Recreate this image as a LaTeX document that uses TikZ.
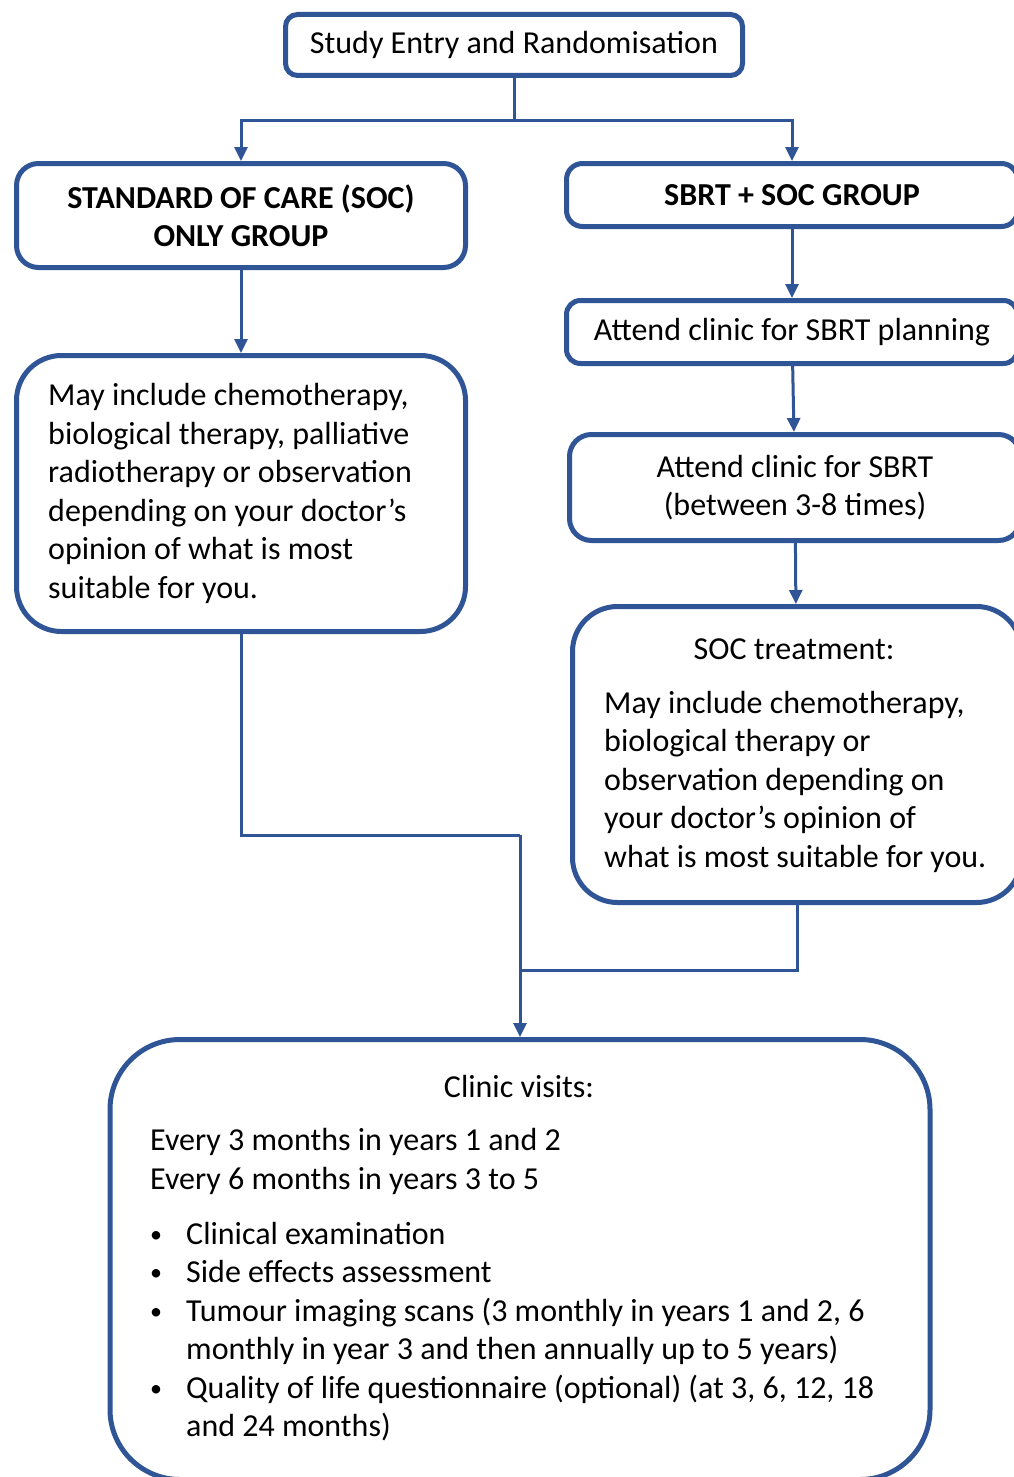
\documentclass[tikz,border=0pt]{standalone}
\usepackage{fontspec}
\setmainfont{Carlito}
\usetikzlibrary{arrows.meta}
\definecolor{flowblue}{RGB}{47,85,151}
\newcommand\flowfont{\fontsize{32}{38.5}\selectfont}
\newcommand\listdot{\makebox[36pt][l]{\raisebox{2pt}{\fontsize{24}{24}\selectfont•}}}
\tikzset{>={Triangle[length=14pt,width=13pt]}}
\tikzstyle{stage}=[rectangle,draw=flowblue,line width=5pt,fill=white,rounded corners=14pt,align=center,font=\flowfont]
\tikzstyle{info}=[stage,rounded corners=45pt]
\tikzstyle{words}=[inner sep=0pt,align=left,font=\flowfont]
\tikzstyle{link}=[draw=flowblue,line width=3pt]

\begin{document}
\begin{tikzpicture}[x=1pt,y=-1pt]
	\useasboundingbox (0,0) rectangle (1014,1477);
	\clip (0,0) rectangle (1014,1477);

	\node[stage, minimum width=457pt, minimum height=61pt, rounded corners=12pt] (entry) at (514,45) {Study Entry and Randomisation};

	% standard of care arm
	\node[stage, font=\flowfont\bfseries, minimum width=449pt, minimum height=104pt, rounded corners=22pt] (socarm) at (241,215.5) {STANDARD OF CARE (SOC)\\ONLY GROUP};
	\node[info, minimum width=449pt, minimum height=276pt] (socplan) at (241,493.5) {};
	\node[words, anchor=west] (soctext) at (48,493.5) {May include chemotherapy,\\biological therapy, palliative\\radiotherapy or observation\\depending on your doctor’s\\opinion of what is most\\suitable for you.};

	% SBRT arm
	\node[stage, font=\flowfont\bfseries, minimum width=451pt, minimum height=63pt, rounded corners=16pt] (sbrtarm) at (792,195) {SBRT + SOC GROUP};
	\node[stage, minimum width=451pt, minimum height=63pt] (planning) at (792,332) {Attend clinic for SBRT planning};
	\node[stage, minimum width=451pt, minimum height=106pt, rounded corners=22pt] (fractions) at (795,487.5) {Attend clinic for SBRT\\(between 3-8 times)};
	\node[info, minimum width=449pt, minimum height=296pt] (sbrtsoc) at (797,754.5) {};
	\node[words, align=center] (sbrtsoctitle) at (794,649) {SOC treatment:};
	\node[words, anchor=west] (sbrtsoctext) at (604,781.5) {May include chemotherapy,\\biological therapy or\\observation depending on\\your doctor’s opinion of\\what is most suitable for you.};

	% follow up
	\node[info, minimum width=820pt, minimum height=440pt, rounded corners=70pt] (followup) at (520,1259.5) {};
	\node[words, align=center] (visits) at (519,1087) {Clinic visits:};
	\node[words, anchor=west] (schedule) at (150,1161.5) {Every 3 months in years 1 and 2\\Every 6 months in years 3 to 5};
	\node[words, anchor=west] (checks) at (150,1331.5) {\listdot Clinical examination\\\listdot Side effects assessment\\\listdot Tumour imaging scans (3 monthly in years 1 and 2, 6\\\hspace*{36pt}monthly in year 3 and then annually up to 5 years)\\\listdot Quality of life questionnaire (optional) (at 3, 6, 12, 18\\\hspace*{36pt}and 24 months)};

	\coordinate (split) at (514,121);
	\coordinate (leftbend) at (520,835);
	\coordinate (rightjoin) at (520,970);

	\draw[link] (entry.south) -- (split);
	\draw[link,->] (split) -| (socarm.north);
	\draw[link,->] (split) -| (sbrtarm.north);
	\draw[link,->] (socarm) -- (socplan);
	\draw[link,->] (sbrtarm) -- (planning);
	\draw[link,->] (planning) -- (fractions);
	\draw[link,->] (fractions) -- (sbrtsoc);
	\draw[link] (socplan.south) |- (leftbend);
	\draw[link,->] (leftbend) -- (followup.north);
	\draw[link] (sbrtsoc.south) |- (rightjoin);
\end{tikzpicture}
\end{document}
